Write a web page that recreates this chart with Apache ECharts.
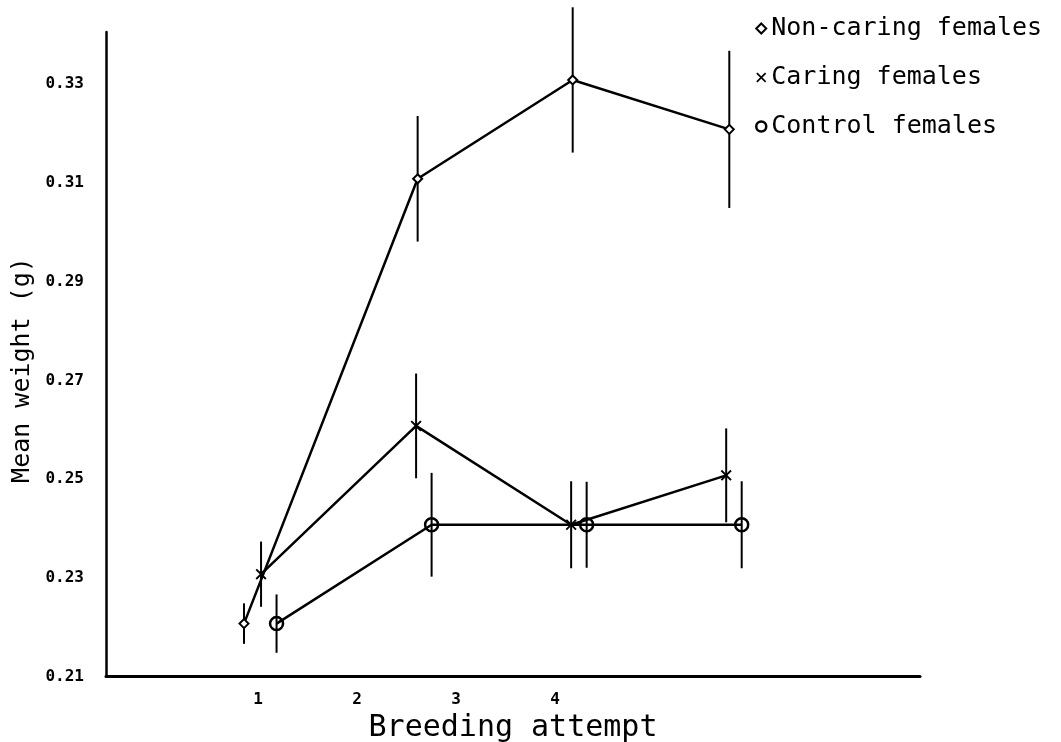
<!DOCTYPE html>
<html>
<head>
<meta charset="utf-8">
<title>Mean weight by breeding attempt</title>
<script src="https://cdn.jsdelivr.net/npm/echarts@6/dist/echarts.min.js"></script>
<style>
  html, body { margin: 0; padding: 0; background: #ffffff; }
  #chart { width: 1061px; height: 742px; }
</style>
</head>
<body>
<div id="chart"></div>
<script>
// Breeding attempts and their axis labels
const attempts = [1, 2, 3, 4];
const xTickLabels = ['1', '2', '3', '4'];
const yTickValues = [0.21, 0.23, 0.25, 0.27, 0.29, 0.31, 0.33];

// Group names (legend order)
const groupNames = ['Non-caring females', 'Caring females', 'Control females'];

// Mean weight (g) and standard error per breeding attempt
const nonCaringMean = [0.22, 0.31, 0.33, 0.32];
const nonCaringSE   = [0.0041, 0.0127, 0.0147, 0.0159];
const caringMean    = [0.23, 0.26, 0.24, 0.25];
const caringSE      = [0.0066, 0.0106, 0.0088, 0.0095];
const controlMean   = [0.22, 0.24, 0.24, 0.24];
const controlSE     = [0.0059, 0.0105, 0.0087, 0.0088];

// Plotted attempt positions (groups dodged so their bars do not overlap)
const nonCaringX = [0.89, 2.01, 3.01, 4.02];
const caringX    = [1, 2, 3, 4];
const controlX   = [1.1, 2.1, 3.1, 4.1];

const FONT = 'DejaVu Sans Mono';
const INK = '#000000';
const CROSS = 'path://M0,1.2L1.2,0L5,3.8L8.8,0L10,1.2L6.2,5L10,8.8L8.8,10L5,6.2L1.2,10L0,8.8L3.8,5Z';

function points(xs, ys) {
  return xs.map((x, i) => [x, ys[i]]);
}
function bars(xs, ys, se) {
  return xs.map((x, i) => [x, ys[i] - se[i], ys[i] + se[i]]);
}

function errorSeries(name, data) {
  return {
    name: name,
    type: 'custom',
    xAxisIndex: 1,
    yAxisIndex: 0,
    clip: false,
    silent: true,
    z: 1,
    data: data,
    renderItem: function (params, api) {
      const lo = api.coord([api.value(0), api.value(1)]);
      const hi = api.coord([api.value(0), api.value(2)]);
      return {
        type: 'line',
        shape: { x1: lo[0], y1: lo[1], x2: hi[0], y2: hi[1] },
        style: { stroke: INK, lineWidth: 2 }
      };
    }
  };
}

function lineSeries(name, data, symbol, size, style) {
  return {
    name: name,
    type: 'line',
    xAxisIndex: 1,
    yAxisIndex: 0,
    data: data,
    symbol: symbol,
    symbolSize: size,
    showAllSymbol: true,
    clip: false,
    z: 3,
    lineStyle: { color: INK, width: 2.5 },
    itemStyle: style,
    emphasis: { disabled: true }
  };
}

const chart = echarts.init(document.getElementById('chart'), null, { renderer: 'canvas' });

chart.setOption({
  backgroundColor: '#ffffff',
  animation: false,
  grid: {
    left: 106, right: 141, top: 32, bottom: 66,
    containLabel: false,
    outerBoundsMode: 'none'
  },
  legend: {
    orient: 'vertical',
    left: 750,
    top: 11,
    itemWidth: 10,
    itemHeight: 10,
    itemGap: 24,
    selectedMode: false,
    textStyle: { fontFamily: FONT, fontSize: 25, color: INK },
    data: [
      { name: groupNames[0], icon: 'diamond', itemStyle: { color: '#ffffff', borderColor: INK, borderWidth: 2 } },
      { name: groupNames[1], icon: CROSS, itemStyle: { color: INK, borderWidth: 0 } },
      { name: groupNames[2], icon: 'circle', itemStyle: { color: '#ffffff', borderColor: INK, borderWidth: 2.5 } }
    ]
  },
  xAxis: [
    {
      type: 'value',
      min: -0.535,
      max: 7.687,
      name: 'Breeding attempt',
      nameLocation: 'middle',
      nameGap: 24,
      nameTextStyle: { fontFamily: FONT, fontSize: 30, color: INK },
      axisLine: { show: true, onZero: false, lineStyle: { color: INK, width: 3 } },
      axisTick: { show: false },
      splitLine: { show: false },
      axisLabel: {
        customValues: attempts,
        margin: 16,
        fontFamily: FONT,
        fontWeight: 'bold',
        fontSize: 16,
        color: INK,
        formatter: function (v) { return xTickLabels[attempts.indexOf(v)]; }
      }
    },
    {
      type: 'value',
      min: 0,
      max: 5.25,
      show: false
    }
  ],
  yAxis: {
    type: 'value',
    min: 0.2094,
    max: 0.3397,
    name: 'Mean weight (g)',
    nameLocation: 'middle',
    nameRotate: 90,
    nameGap: 70,
    nameTextStyle: { fontFamily: FONT, fontSize: 25, color: INK, padding: [0, 32, 0, 0] },
    axisLine: { show: true, onZero: false, lineStyle: { color: INK, width: 2.5 } },
    axisTick: { show: false },
    splitLine: { show: false },
    axisLabel: {
      customValues: yTickValues,
      margin: 22,
      color: INK,
      formatter: function (v) { return '{t|' + v.toFixed(2) + '}'; },
      rich: {
        t: {
          fontFamily: FONT,
          fontWeight: 'bold',
          fontSize: 16,
          color: INK,
          padding: [8, 0, 0, 0]
        }
      }
    }
  },
  series: [
    errorSeries(groupNames[0], bars(nonCaringX, nonCaringMean, nonCaringSE)),
    errorSeries(groupNames[1], bars(caringX, caringMean, caringSE)),
    errorSeries(groupNames[2], bars(controlX, controlMean, controlSE)),
    lineSeries(groupNames[0], points(nonCaringX, nonCaringMean), 'diamond', 9,
      { color: '#ffffff', borderColor: INK, borderWidth: 2 }),
    lineSeries(groupNames[1], points(caringX, caringMean), CROSS, 11,
      { color: INK, borderWidth: 0 }),
    lineSeries(groupNames[2], points(controlX, controlMean), 'circle', 13,
      { color: 'rgba(0,0,0,0)', borderColor: INK, borderWidth: 2.5 })
  ]
});
</script>
</body>
</html>
